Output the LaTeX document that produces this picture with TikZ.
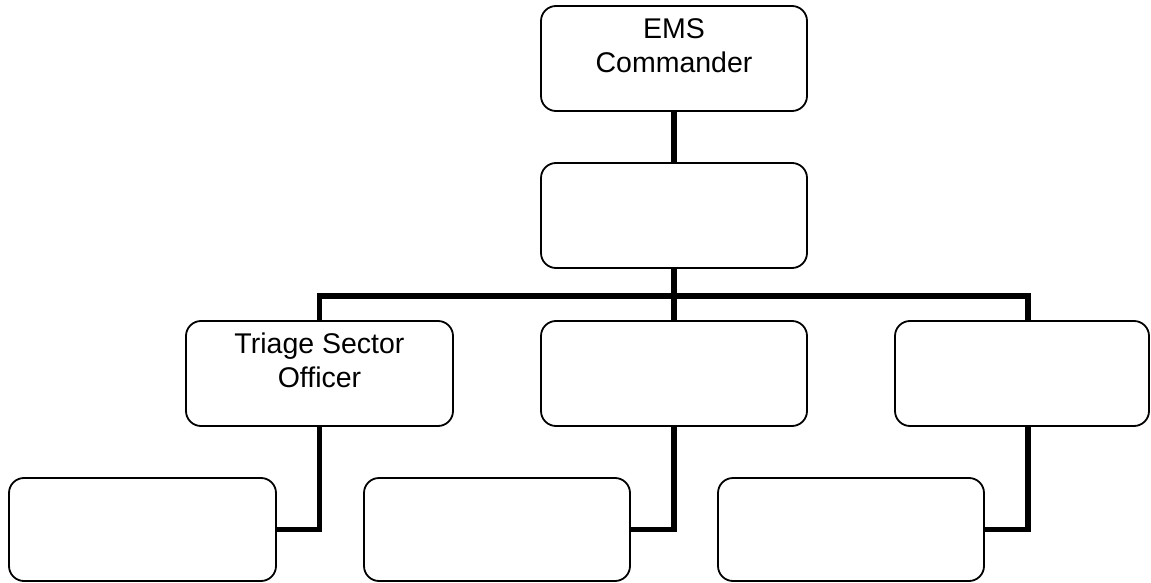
\documentclass[tikz,border=0pt]{standalone}
\usepackage{fontspec}
\setmainfont{Liberation Sans}
\begin{document}
\begin{tikzpicture}[x=1pt,y=1pt,
  orgbox/.style={draw=black, line width=1.8pt, rounded corners=15pt, fill=white, inner sep=0pt},
  conn/.style={draw=black, line width=5.5pt, line join=miter, line cap=butt},
  lbl/.style={anchor=base, inner sep=0pt, font=\fontsize{28.5}{34}\selectfont}]
\useasboundingbox[fill=white] (0,0) rectangle (1151,582);
\coordinate (barL) at (319.5,286);
\coordinate (barM) at (674,286);
\coordinate (barR) at (1028,286);
\coordinate (rdrop) at (1028,156);
% boxes
\node[orgbox, minimum width=266pt, minimum height=105pt] (A) at (674,523.5) {};
\node[orgbox, minimum width=266pt, minimum height=105pt] (B) at (674,366.5) {};
\node[orgbox, minimum width=267pt, minimum height=105pt] (C) at (319.5,208.5) {};
\node[orgbox, minimum width=266pt, minimum height=105pt] (D) at (674,208.5) {};
\node[orgbox, minimum width=254pt, minimum height=105pt] (E) at (1022,208.5) {};
\node[orgbox, minimum width=267pt, minimum height=103pt] (F) at (142.5,52.5) {};
\node[orgbox, minimum width=266pt, minimum height=103pt] (G) at (497,52.5) {};
\node[orgbox, minimum width=266pt, minimum height=103pt] (H) at (851,52.5) {};
% connectors
\draw[conn] (A.south) -- (B.north);
\draw[conn] (B.south) -- (barM);
\draw[conn] (C.north) -- (barL) -- (barR) -- (E.north -| barR);
\draw[conn] (barM) -- (D.north);
\draw[conn] (C.south) |- (F.east);
\draw[conn] (D.south) |- (G.east);
\draw[conn] (E.south -| rdrop) |- (H.east);
% texts
\node[lbl] (t1) at (674,543) {EMS};
\node[lbl] (t2) at (674,509) {Commander};
\node[lbl] (t3) at (319.5,229) {Triage Sector};
\node[lbl] (t4) at (319.5,195) {Officer};
\end{tikzpicture}
\end{document}
